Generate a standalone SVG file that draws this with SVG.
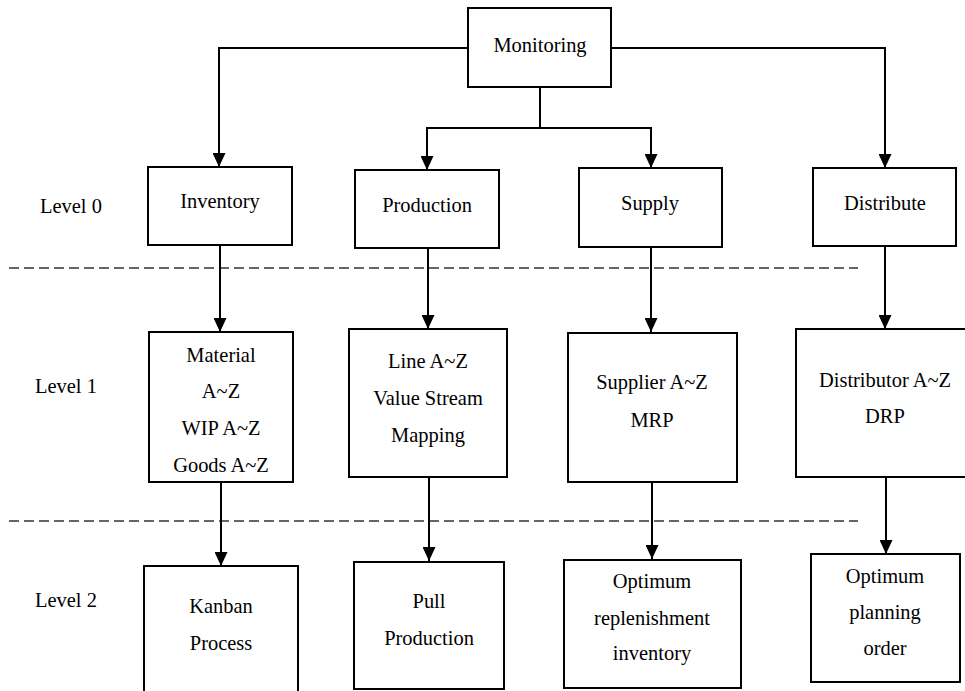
<svg xmlns="http://www.w3.org/2000/svg" width="965" height="691" viewBox="0 0 965 691">
<style>
.box{fill:#fff;stroke:#000;stroke-width:2}
text{font-family:'Liberation Serif','Times New Roman',serif;font-size:22px;fill:#000}
.t{text-anchor:middle}
.c{fill:none;stroke:#000;stroke-width:2}
.d{fill:none;stroke:#333;stroke-width:1.3;stroke-dasharray:10 5}
</style>
<defs>
<marker id="ah" markerUnits="userSpaceOnUse" markerWidth="14" markerHeight="13" refX="14" refY="6.5" orient="auto" viewBox="0 0 14 13">
<path d="M0,0 L14,6.5 L0,13 z" fill="#000"/>
</marker>
</defs>
<rect width="965" height="691" fill="#fff"/>
<g id="separators">
<line class="d" x1="9" y1="268" x2="858" y2="268"/>
<line class="d" x1="9" y1="521" x2="858" y2="521"/>
</g>
<g id="levels">
<text transform="matrix(.93 0 0 1 40 0)" y="213">Level 0</text>
<text transform="matrix(.93 0 0 1 35 0)" y="393">Level 1</text>
<text transform="matrix(.93 0 0 1 35 0)" y="607">Level 2</text>
</g>
<g id="connectors">
<path class="c" d="M468,48 H219 V167" marker-end="url(#ah)"/>
<path class="c" d="M611,48 H885 V168" marker-end="url(#ah)"/>
<path class="c" d="M540,87 V128 H427 V170" marker-end="url(#ah)"/>
<path class="c" d="M540,128 H651 V168" marker-end="url(#ah)"/>
<path class="c" d="M220,245 V332" marker-end="url(#ah)"/>
<path class="c" d="M428,248 V329" marker-end="url(#ah)"/>
<path class="c" d="M651,247 V332" marker-end="url(#ah)"/>
<path class="c" d="M885,246 V329" marker-end="url(#ah)"/>
<path class="c" d="M221,482 V566" marker-end="url(#ah)"/>
<path class="c" d="M429,477 V561" marker-end="url(#ah)"/>
<path class="c" d="M652,482 V559" marker-end="url(#ah)"/>
<path class="c" d="M886,477 V554" marker-end="url(#ah)"/>
</g>
<g id="monitoring">
<rect class="box" x="468" y="8" width="143" height="79"/>
<text class="t" transform="matrix(.93 0 0 1 540 0)" y="52">Monitoring</text>
</g>
<g id="inventory">
<rect class="box" x="148" y="167" width="144" height="78"/>
<text class="t" transform="matrix(.93 0 0 1 220 0)" y="208">Inventory</text>
</g>
<g id="production">
<rect class="box" x="355" y="170" width="144" height="78"/>
<text class="t" transform="matrix(.93 0 0 1 427 0)" y="212">Production</text>
</g>
<g id="supply">
<rect class="box" x="579" y="168" width="143" height="79"/>
<text class="t" transform="matrix(.93 0 0 1 650 0)" y="210">Supply</text>
</g>
<g id="distribute">
<rect class="box" x="813" y="168" width="143" height="78"/>
<text class="t" transform="matrix(.93 0 0 1 885 0)" y="210">Distribute</text>
</g>
<g id="material">
<rect class="box" x="149" y="332" width="144" height="150"/>
<text class="t" transform="matrix(.93 0 0 1 221 0)" y="362">Material</text>
<text class="t" transform="matrix(.93 0 0 1 221 0)" y="398">A~Z</text>
<text class="t" transform="matrix(.93 0 0 1 221 0)" y="435">WIP A~Z</text>
<text class="t" transform="matrix(.93 0 0 1 221 0)" y="472">Goods A~Z</text>
</g>
<g id="line">
<rect class="box" x="349" y="329" width="158" height="148"/>
<text class="t" transform="matrix(.93 0 0 1 428 0)" y="368">Line A~Z</text>
<text class="t" transform="matrix(.93 0 0 1 428 0)" y="405">Value Stream</text>
<text class="t" transform="matrix(.93 0 0 1 428 0)" y="442">Mapping</text>
</g>
<g id="supplier">
<rect class="box" x="568" y="333" width="169" height="149"/>
<text class="t" transform="matrix(.93 0 0 1 652 0)" y="389">Supplier A~Z</text>
<text class="t" transform="matrix(.93 0 0 1 652 0)" y="427">MRP</text>
</g>
<g id="distributor">
<rect class="box" x="796" y="329" width="180" height="148"/>
<text class="t" transform="matrix(.93 0 0 1 885 0)" y="387">Distributor A~Z</text>
<text class="t" transform="matrix(.93 0 0 1 885 0)" y="423">DRP</text>
</g>
<g id="kanban">
<rect class="box" x="144" y="566" width="154" height="135"/>
<text class="t" transform="matrix(.93 0 0 1 221 0)" y="613">Kanban</text>
<text class="t" transform="matrix(.93 0 0 1 221 0)" y="650">Process</text>
</g>
<g id="pull">
<rect class="box" x="354" y="562" width="150" height="127"/>
<text class="t" transform="matrix(.93 0 0 1 429 0)" y="608">Pull</text>
<text class="t" transform="matrix(.93 0 0 1 429 0)" y="645">Production</text>
</g>
<g id="replenishment">
<rect class="box" x="564" y="560" width="177" height="128"/>
<text class="t" transform="matrix(.93 0 0 1 652 0)" y="588">Optimum</text>
<text class="t" transform="matrix(.93 0 0 1 652 0)" y="625">replenishment</text>
<text class="t" transform="matrix(.93 0 0 1 652 0)" y="660">inventory</text>
</g>
<g id="planning">
<rect class="box" x="811" y="554" width="149" height="128"/>
<text class="t" transform="matrix(.93 0 0 1 885 0)" y="583">Optimum</text>
<text class="t" transform="matrix(.93 0 0 1 885 0)" y="619">planning</text>
<text class="t" transform="matrix(.93 0 0 1 885 0)" y="655">order</text>
</g>
</svg>
